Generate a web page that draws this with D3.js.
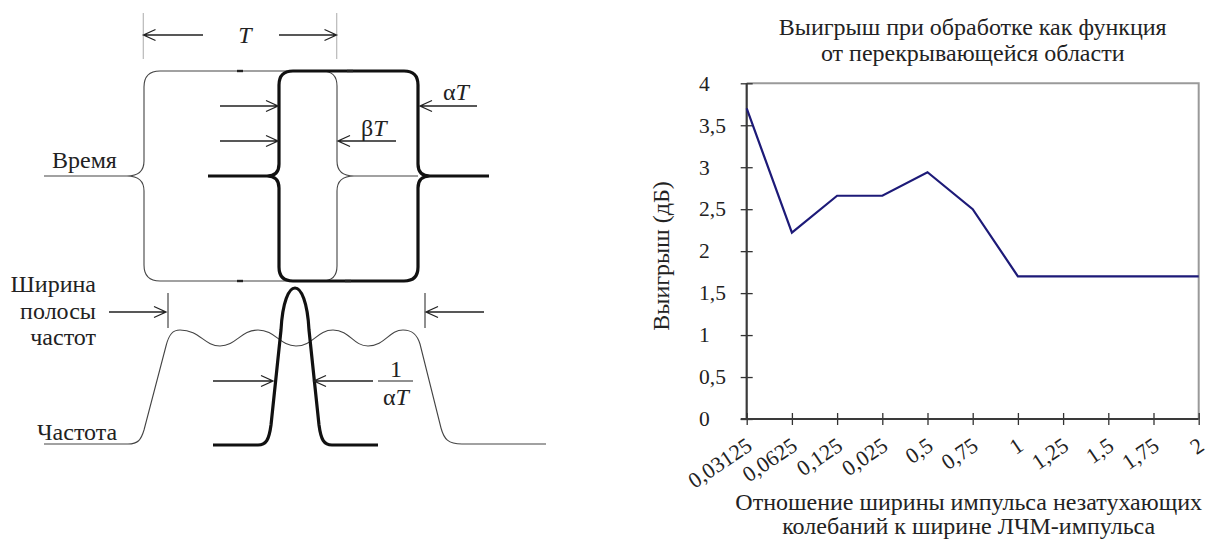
<!DOCTYPE html>
<html>
<head>
<meta charset="utf-8">
<script src="https://cdn.jsdelivr.net/npm/d3@7"></script>
<style>
  html, body { margin: 0; padding: 0; background: #fff; }
  svg { display: block; }
  text { font-family: "Liberation Serif", "Times New Roman", serif; fill: #222; }
</style>
</head>
<body>
<svg id="chart" width="1211" height="540"></svg>
<script>
// ---------------- Chart data ----------------
const categories = ["0,03125", "0,0625", "0,125", "0,025", "0,5", "0,75", "1", "1,25", "1,5", "1,75", "2"];
const gainValues = [3.7, 2.22, 2.66, 2.66, 2.94, 2.5, 1.7, 1.7, 1.7, 1.7, 1.7];
const yTickValues = [0, 0.5, 1, 1.5, 2, 2.5, 3, 3.5, 4];
const yTickLabels = ["0", "0,5", "1", "1,5", "2", "2,5", "3", "3,5", "4"];
const titleLines = ["Выигрыш при обработке как функция", "от перекрывающейся области"];
const xTitleLines = ["Отношение ширины импульса незатухающих", "колебаний к ширине ЛЧМ-импульса"];
const yTitle = "Выигрыш (дБ)";

const svg = d3.select("#chart");

// ---------------- Right: line chart ----------------
const plot = { left: 746.7, right: 1198.7, top: 83.3, bottom: 419 };
const x = d3.scalePoint().domain(categories).range([plot.left, plot.right]);
const y = d3.scaleLinear().domain([0, 4]).range([plot.bottom, plot.top]);

const chart = svg.append("g");

// frame (top & right, light gray)
chart.append("path")
  .attr("d", `M${plot.left},${plot.top}H${plot.right}V${plot.bottom}`)
  .attr("fill", "none").attr("stroke", "#9a9a9a").attr("stroke-width", 2);

// Y axis (cross ticks)
const yAxis = d3.axisLeft(y).tickValues(yTickValues).tickSize(12).tickFormat("");
const yg = chart.append("g").attr("transform", `translate(${plot.left + 6},0)`).call(yAxis);
yg.select(".domain").remove();
yg.selectAll(".tick line").attr("stroke", "#333").attr("stroke-width", 1.3);
chart.append("line").attr("x1", plot.left).attr("x2", plot.left)
  .attr("y1", plot.top).attr("y2", plot.bottom).attr("stroke", "#3a3a3a").attr("stroke-width", 2.2);
chart.append("g").selectAll("text").data(yTickValues).join("text")
  .attr("x", 699).attr("y", d => y(d)).attr("dy", "0.34em")
  .attr("font-size", 21.5).attr("text-anchor", "start")
  .text((d, i) => yTickLabels[i]);

// X axis (cross ticks)
const xAxis = d3.axisBottom(x).tickSize(12).tickFormat("");
const xg = chart.append("g").attr("transform", `translate(0,${plot.bottom - 6})`).call(xAxis);
xg.select(".domain").remove();
xg.selectAll(".tick line").attr("stroke", "#333").attr("stroke-width", 1.3);
chart.append("line").attr("x1", plot.left - 6).attr("x2", plot.right)
  .attr("y1", plot.bottom).attr("y2", plot.bottom).attr("stroke", "#3a3a3a").attr("stroke-width", 2.2);
chart.append("g").selectAll("text").data(categories).join("text")
  .attr("transform", d => `translate(${x(d) + 7},${plot.bottom + 30}) rotate(-34)`)
  .attr("font-size", 22).attr("text-anchor", "end")
  .text(d => d);

// data line
const line = d3.line().x((d, i) => x(categories[i])).y(d => y(d));
chart.append("path").datum(gainValues)
  .attr("d", line).attr("fill", "none")
  .attr("stroke", "#1d1a78").attr("stroke-width", 2.2).attr("stroke-linejoin", "miter");

// titles
const cx = (plot.left + plot.right) / 2;
chart.append("g").selectAll("text").data(titleLines).join("text")
  .attr("x", cx).attr("y", (d, i) => 35 + i * 26)
  .attr("text-anchor", "middle").attr("font-size", 24).text(d => d);
chart.append("g").selectAll("text").data(xTitleLines).join("text")
  .attr("x", cx - 4).attr("y", (d, i) => 510 + i * 24)
  .attr("text-anchor", "middle").attr("font-size", 24).text(d => d);
chart.append("text")
  .attr("transform", `translate(669,256) rotate(-90)`)
  .attr("text-anchor", "middle").attr("font-size", 24).text(yTitle);

// ---------------- Left: explanatory diagram ----------------
const dia = svg.append("g");
const thin = { stroke: "#444", width: 1.1 };
const thick = { stroke: "#111", width: 3.2 };

function drawPath(d, st) {
  dia.append("path").attr("d", d).attr("fill", "none")
    .attr("stroke", st.stroke).attr("stroke-width", st.width)
    .attr("stroke-linejoin", "round").attr("stroke-linecap", "butt");
}
function arrow(x1, yy, x2) {
  const dir = x2 > x1 ? 1 : -1;
  const p = d3.path();
  p.moveTo(x1, yy); p.lineTo(x2, yy);
  p.moveTo(x2 - dir * 12, yy - 5.5); p.lineTo(x2, yy); p.lineTo(x2 - dir * 12, yy + 5.5);
  dia.append("path").attr("d", p.toString()).attr("fill", "none")
    .attr("stroke", "#222").attr("stroke-width", 1.3);
}
function vline(xx, y1, y2, color, w) {
  dia.append("line").attr("x1", xx).attr("x2", xx).attr("y1", y1).attr("y2", y2)
    .attr("stroke", color).attr("stroke-width", w);
}

// T dimension
vline(143.3, 13, 59, "#b8b8b8", 1.2);
vline(336.7, 13, 59, "#b8b8b8", 1.2);
arrow(203, 35, 143.5);
arrow(279, 35, 336.5);
dia.append("text").attr("x", 245).attr("y", 43).attr("text-anchor", "middle")
  .attr("font-size", 24).attr("font-style", "italic").text("T");

// thin outer braces (time)
drawPath("M44,176H127 " +
  "M279,71H160Q144,71 144,87V161C144,170 140,176 127,176C140,176 144,182 144,191V265Q144,281 160,281H279 " +
  "M279,71H322Q337,71 337,86V161C337,170 341,176 354,176H418 " +
  "M354,176C341,176 337,182 337,191V266Q337,281 322,281H279", thin);
// thick braces
drawPath("M208,176H267C275,176 279,172 279,164V85Q279,71 293,71H404Q418,71 418,85V164C418,172 422,176 430,176H489 " +
  "M267,176C275,176 279,180 279,188V267Q279,281 293,281H404Q418,281 418,267V188C418,180 422,176 430,176", thick);
// small dark marks on frame lines
[[240, 71], [350, 71], [240, 281], [348, 281]].forEach(([mx, my]) => {
  dia.append("line").attr("x1", mx - 3).attr("x2", mx + 3).attr("y1", my).attr("y2", my)
    .attr("stroke", "#222").attr("stroke-width", 2.4);
});

arrow(220, 106, 278);
arrow(220, 141, 278);
arrow(477, 106, 420);
arrow(396, 141, 338);
const aT = dia.append("text").attr("x", 443).attr("y", 100).attr("font-size", 24);
aT.append("tspan").text("α");
aT.append("tspan").attr("font-style", "italic").text("T");
const bT = dia.append("text").attr("x", 361).attr("y", 136).attr("font-size", 24);
bT.append("tspan").text("β");
bT.append("tspan").attr("font-style", "italic").text("T");
dia.append("text").attr("x", 52).attr("y", 168).attr("font-size", 24).text("Время");

// bandwidth labels and arrows
dia.append("text").attr("x", 96).attr("y", 292).attr("text-anchor", "end").attr("font-size", 24).text("Ширина");
dia.append("text").attr("x", 96).attr("y", 319).attr("text-anchor", "end").attr("font-size", 24).text("полосы");
dia.append("text").attr("x", 96).attr("y", 345).attr("text-anchor", "end").attr("font-size", 24).text("частот");
dia.append("text").attr("x", 37).attr("y", 440).attr("font-size", 24).text("Частота");
arrow(109, 312, 166);
vline(168, 293, 328, "#333", 1.1);
arrow(484, 312, 426);
vline(425, 293, 328, "#333", 1.1);

// rippled spectrum (thin)
drawPath("M44,444H128C138,444 141,440 144,430L166,346C169,334 173,330 180,330" +
  "C200,330 204,346 220,346C236,346 241,330 258,330C275,330 280,346 296,346" +
  "C313,346 317,330 333,330C350,330 353,346 368,346C385,346 389,330 403,330" +
  "C412,330 417,334 420,344L441,428C444,439 448,444 462,444H546", thin);

// narrow pulse spectrum (thick)
drawPath("M213,445H258C266,445 269,440 271,425L281,330C284,274 306,274 309,330L319,425C321,440 324,445 332,445H378", thick);
arrow(213, 381, 273);
arrow(373, 381, 314);
dia.append("text").attr("x", 396).attr("y", 377).attr("text-anchor", "middle").attr("font-size", 24).text("1");
dia.append("line").attr("x1", 378).attr("x2", 413).attr("y1", 381).attr("y2", 381).attr("stroke", "#222").attr("stroke-width", 1.2);
const f = dia.append("text").attr("x", 396).attr("y", 405).attr("text-anchor", "middle").attr("font-size", 24);
f.append("tspan").text("α");
f.append("tspan").attr("font-style", "italic").text("T");
</script>
</body>
</html>
